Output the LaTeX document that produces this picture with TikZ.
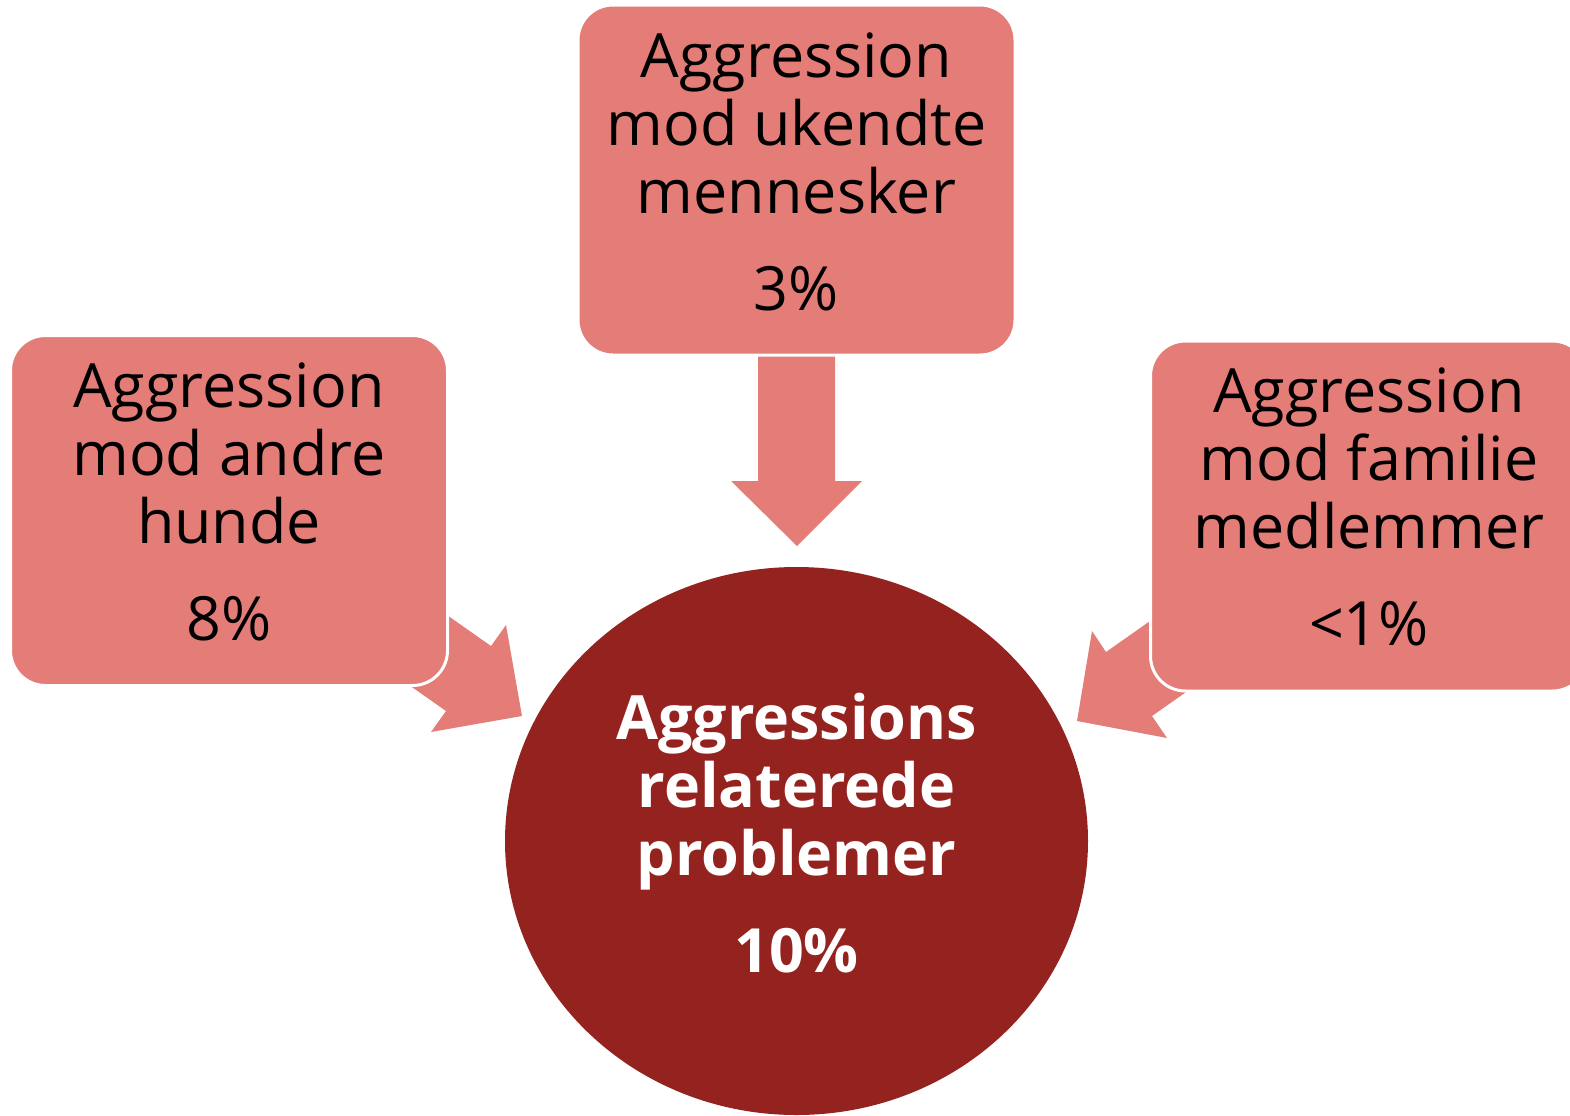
\documentclass[tikz,border=0pt]{standalone}
\usepackage{fontspec}
\setmainfont{Open Sans}
\usetikzlibrary{shapes.geometric}
\definecolor{boxfill}{RGB}{228,125,120}
\definecolor{circfill}{RGB}{148,35,31}
\begin{document}
\begin{tikzpicture}[x=0.5pt,y=-0.5pt,
  box/.style={draw=white,line width=1.5pt,fill=boxfill,rounded corners=17.5pt,minimum width=218.5pt,minimum height=175pt,inner sep=0pt},
  lbl/.style={align=center,inner sep=0pt,font=\fontsize{30.5}{34}\selectfont,anchor=base},
  blockarrow/.style={fill=boxfill}]
\useasboundingbox (0,0) rectangle (1570,1115);
% central ellipse
\node[ellipse,fill=circfill,minimum width=291.5pt,minimum height=274pt,inner sep=0pt] (C) at (796.5,841) {};
% block arrows
\fill[blockarrow] (758,330) -- (835,330) -- (835,481) -- (862,481) -- (797,546) -- (731,481) -- (758,481) -- cycle;
\fill[blockarrow] (400,582) -- (491,646) -- (506,625) -- (522,716) -- (431,732) -- (446,711) -- (355,647) -- cycle;
\fill[blockarrow] (1197,588) -- (1106,652) -- (1092,631) -- (1077,721) -- (1167,738) -- (1152,716) -- (1243,652) -- cycle;
% boxes
\node[box] (T) at (796.5,180) {};
\node[box] (L) at (229,510.5) {};
\node[box] (R) at (1369,516) {};
% labels (anchor = baseline of last line)
\node[lbl] (Tt) at (796.5,310) {Aggression\\mod ukendte\\mennesker\\[14.5pt]3\%};
\node[lbl] (Lt) at (229,640) {Aggression\\mod andre\\hunde\\[14.5pt]8\%};
\node[lbl] (Rt) at (1369,645) {Aggression\\mod familie\\medlemmer\\[14.5pt]<1\%};
\node[lbl,text=white,font=\fontsize{30.5}{34}\selectfont\bfseries] (Ct) at (796.5,972) {Aggressions\\relaterede\\problemer\\[14.5pt]10\%};
\end{tikzpicture}
\end{document}
